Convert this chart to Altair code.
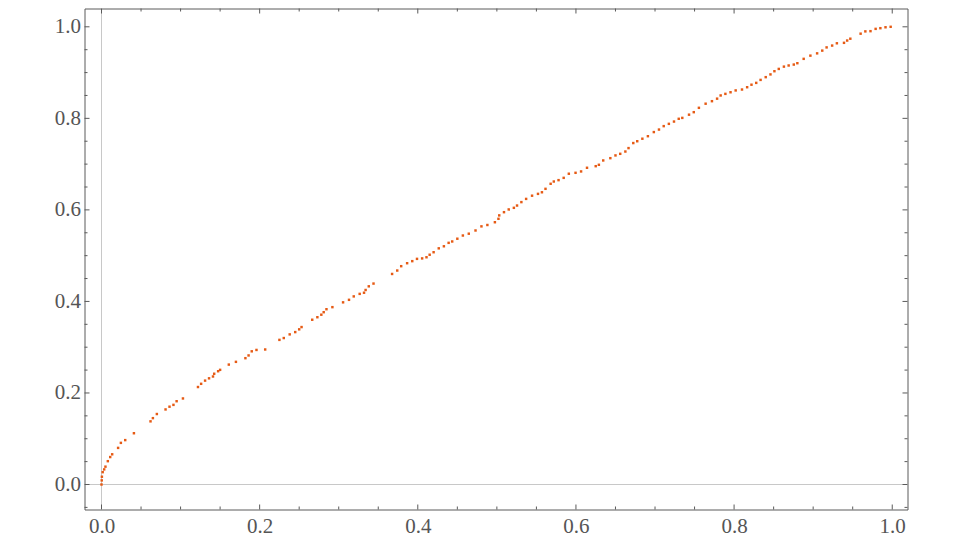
import altair as alt
import pandas as pd

# Curve points (x, y)
xs = [0, 0.0003, 0.0005, 0.0015, 0.0034, 0.005, 0.008, 0.011, 0.0135, 0.021,
      0.0245, 0.030, 0.041, 0.062, 0.065, 0.070, 0.081, 0.086, 0.091, 0.095,
      0.103, 0.122, 0.126, 0.131, 0.136, 0.141, 0.1425, 0.1475, 0.150, 0.161,
      0.170, 0.182, 0.186, 0.190, 0.196, 0.207, 0.225, 0.2305, 0.238, 0.245,
      0.250, 0.253, 0.2665, 0.273, 0.278, 0.281, 0.2845, 0.292, 0.3055, 0.313,
      0.319, 0.3265, 0.332, 0.334, 0.338, 0.344, 0.3675, 0.374, 0.379, 0.3865,
      0.393, 0.399, 0.4055, 0.411, 0.415, 0.420, 0.4265, 0.433, 0.439, 0.4435,
      0.450, 0.457, 0.4645, 0.473, 0.4805, 0.488, 0.4975, 0.502, 0.503, 0.509,
      0.515, 0.5215, 0.5255, 0.531, 0.537, 0.5445, 0.552, 0.557, 0.5615, 0.568,
      0.572, 0.578, 0.5845, 0.591, 0.5995, 0.6065, 0.614, 0.625, 0.629, 0.6345,
      0.6435, 0.650, 0.656, 0.6625, 0.6665, 0.6725, 0.6775, 0.684, 0.691, 0.6985,
      0.705, 0.711, 0.7175, 0.724, 0.730, 0.7345, 0.743, 0.749, 0.7555, 0.764,
      0.772, 0.7785, 0.783, 0.789, 0.7955, 0.802, 0.810, 0.8165, 0.822, 0.828,
      0.8335, 0.840, 0.846, 0.851, 0.8565, 0.863, 0.869, 0.8755, 0.880, 0.888,
      0.8965, 0.905, 0.9115, 0.917, 0.924, 0.930, 0.939, 0.943, 0.947, 0.960,
      0.966, 0.9725, 0.979, 0.985, 0.9915, 0.998]
ys = [0, 0.009, 0.017, 0.027, 0.033, 0.039, 0.051, 0.060, 0.066, 0.080,
      0.091, 0.097, 0.112, 0.138, 0.145, 0.154, 0.164, 0.170, 0.174, 0.182,
      0.188, 0.213, 0.220, 0.227, 0.232, 0.236, 0.242, 0.2475, 0.2505, 0.262,
      0.268, 0.276, 0.282, 0.291, 0.294, 0.295, 0.316, 0.320, 0.328, 0.333,
      0.339, 0.344, 0.360, 0.3655, 0.371, 0.3765, 0.383, 0.3875, 0.398, 0.4035,
      0.411, 0.4165, 0.419, 0.425, 0.433, 0.439, 0.460, 0.4675, 0.477, 0.4835,
      0.488, 0.493, 0.494, 0.4965, 0.502, 0.5075, 0.516, 0.5205, 0.528, 0.531,
      0.537, 0.544, 0.548, 0.555, 0.564, 0.567, 0.573, 0.5805, 0.588, 0.595,
      0.601, 0.6045, 0.6095, 0.617, 0.624, 0.631, 0.635, 0.6385, 0.646, 0.657,
      0.662, 0.665, 0.670, 0.679, 0.681, 0.684, 0.692, 0.6955, 0.6985, 0.708,
      0.713, 0.719, 0.7225, 0.7275, 0.735, 0.746, 0.750, 0.7555, 0.761, 0.770,
      0.7755, 0.783, 0.788, 0.793, 0.799, 0.801, 0.808, 0.8135, 0.823, 0.832,
      0.8375, 0.843, 0.850, 0.8535, 0.857, 0.861, 0.863, 0.868, 0.8735, 0.8775,
      0.884, 0.890, 0.896, 0.903, 0.908, 0.913, 0.9155, 0.9175, 0.9205, 0.930,
      0.937, 0.942, 0.948, 0.955, 0.959, 0.964, 0.965, 0.970, 0.974, 0.985,
      0.990, 0.9905, 0.9955, 0.997, 0.999, 1.0]

x_major = [0.0, 0.2, 0.4, 0.6, 0.8, 1.0]
y_major = [0.0, 0.2, 0.4, 0.6, 0.8, 1.0]
x_minor = [0.05, 0.1, 0.15, 0.25, 0.3, 0.35, 0.45, 0.5, 0.55, 0.65, 0.7, 0.75,
           0.85, 0.9, 0.95]
y_minor = [-0.05, 0.05, 0.1, 0.15, 0.25, 0.3, 0.35, 0.45, 0.5, 0.55, 0.65, 0.7,
           0.75, 0.85, 0.9, 0.95]

X_DOMAIN = [-0.0215, 1.0193]
Y_DOMAIN = [-0.0546, 1.040]
W, H = 823, 501
FRAME = "#5a5a5a"
LABEL = "#555555"
FONT = "Liberation Serif"

pts = pd.DataFrame({"x": xs, "y": ys})
xsc = alt.Scale(domain=X_DOMAIN, nice=False, zero=False)
ysc = alt.Scale(domain=Y_DOMAIN, nice=False, zero=False)

xaxis = alt.Axis(values=x_major, format=".1f", grid=False, domain=False,
                 ticks=False, tickSize=0, labelPadding=6, labelFont=FONT,
                 labelFontSize=21, labelColor=LABEL, title=None)
yaxis = alt.Axis(values=y_major, format=".1f", grid=False, domain=False,
                 ticks=False, tickSize=0, labelPadding=4, labelFont=FONT,
                 labelFontSize=21, labelColor=LABEL, title=None)

base_axes = alt.Chart(pd.DataFrame({"x": [0.0], "y": [0.0]}))

zero_v = base_axes.mark_rule(color="#c8c8c8", strokeWidth=1).encode(
    x=alt.X("x:Q", scale=xsc, axis=xaxis))
zero_h = base_axes.mark_rule(color="#c8c8c8", strokeWidth=1).encode(
    y=alt.Y("y:Q", scale=ysc, axis=yaxis))


def xticks(vals, length):
    d = alt.Chart(pd.DataFrame({"x": vals}))
    bottom = d.mark_rule(color=FRAME, strokeWidth=1).encode(
        x=alt.X("x:Q", scale=xsc), y=alt.value(H), y2=alt.value(H - length))
    top = d.mark_rule(color=FRAME, strokeWidth=1).encode(
        x=alt.X("x:Q", scale=xsc), y=alt.value(0), y2=alt.value(length))
    return [bottom, top]


def yticks(vals, length):
    d = alt.Chart(pd.DataFrame({"y": vals}))
    left = d.mark_rule(color=FRAME, strokeWidth=1).encode(
        y=alt.Y("y:Q", scale=ysc), x=alt.value(0), x2=alt.value(length))
    right = d.mark_rule(color=FRAME, strokeWidth=1).encode(
        y=alt.Y("y:Q", scale=ysc), x=alt.value(W), x2=alt.value(W - length))
    return [left, right]


points = alt.Chart(pts).mark_square(size=6, color="#E65A14", opacity=1).encode(
    x=alt.X("x:Q", scale=xsc),
    y=alt.Y("y:Q", scale=ysc),
)

layers = [zero_v, zero_h] + xticks(x_major, 5) + xticks(x_minor, 3) \
    + yticks(y_major, 5) + yticks(y_minor, 3) + [points]

chart = alt.layer(*layers).properties(
    width=W, height=H,
    background="white",
    autosize=alt.AutoSizeParams(type="none"),
    padding={"left": 76.5, "top": 0.5, "right": 10, "bottom": 30},
).configure_view(stroke=FRAME, strokeWidth=1)

chart.save("out.html", embed_options={"renderer": "svg", "actions": False})
